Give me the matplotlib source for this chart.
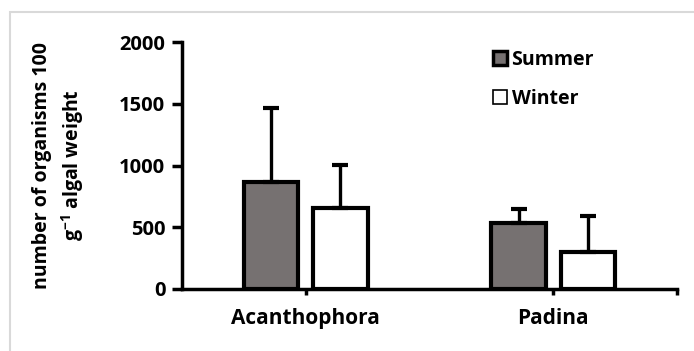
import matplotlib.pyplot as plt
from matplotlib.patches import Rectangle, Patch

plt.rcParams['font.family'] = ['Open Sans', 'DejaVu Sans']
plt.rcParams['font.weight'] = 'bold'
plt.rcParams['mathtext.fontset'] = 'custom'
plt.rcParams['mathtext.rm'] = 'Open Sans:bold'
plt.rcParams['mathtext.default'] = 'rm'

species = ["Acanthophora", "Padina"]
summer = [866, 534]
winter = [656, 300]
summer_sd = [600, 115]
winter_sd = [348, 290]

fig = plt.figure(figsize=(6.94, 3.51), dpi=100)
fig.patches.append(Rectangle((10 / 694, -0.05), 1.2, 1 - 12 / 351 + 0.05,
                             transform=fig.transFigure, fill=False,
                             edgecolor='#d9d9d9', linewidth=1.5))
ax = fig.add_axes([182 / 694, 1 - 289 / 351, (677 - 182) / 694, (289 - 42) / 351])

x = list(range(len(species)))
w = 0.22
off = 0.14
xs = [i - off for i in x]
xw = [i + off for i in x]

err_kw = dict(ecolor='black', elinewidth=2.4, capsize=5.5, capthick=3)
ax.bar(xs, summer, w, color='#767171', edgecolor='black', linewidth=3,
       yerr=[[0] * len(summer), summer_sd], error_kw=err_kw, zorder=2)
ax.bar(xw, winter, w, color='white', edgecolor='black', linewidth=3,
       yerr=[[0] * len(winter), winter_sd], error_kw=err_kw, zorder=2)

ax.set_xlim(-0.5, 1.5)
ax.set_ylim(0, 2000)
ax.set_yticks([0, 500, 1000, 1500, 2000])
ax.set_xticks(x)
ax.set_xticklabels(species, fontsize=15, fontweight='bold')
ax.set_xticks([1.5], minor=True)
for s in ['top', 'right']:
    ax.spines[s].set_visible(False)
ax.spines['left'].set_linewidth(2.5)
ax.spines['bottom'].set_linewidth(2.5)
ax.tick_params(axis='y', length=7, width=2.5, labelsize=14.5, pad=5)
ax.tick_params(axis='x', which='both', length=4, width=2.5, pad=10)
for lab in ax.get_yticklabels():
    lab.set_fontweight('bold')

ax.set_ylabel("number of organisms 100\ng$^{-1}$ algal weight", fontsize=14,
              fontweight='bold', labelpad=24, linespacing=1.35)

handles = [Patch(facecolor='#767171', edgecolor='black', linewidth=2.5),
           Patch(facecolor='white', edgecolor='black', linewidth=1.2)]
leg = ax.legend(handles, ["Summer", "Winter"], loc='upper left',
                bbox_to_anchor=(0.593, 1.04), frameon=False, fontsize=14,
                handlelength=0.7, handleheight=0.7, handletextpad=0.25,
                labelspacing=1.0)
for t in leg.get_texts():
    t.set_fontweight('bold')

fig.savefig('out.png', dpi=100)
